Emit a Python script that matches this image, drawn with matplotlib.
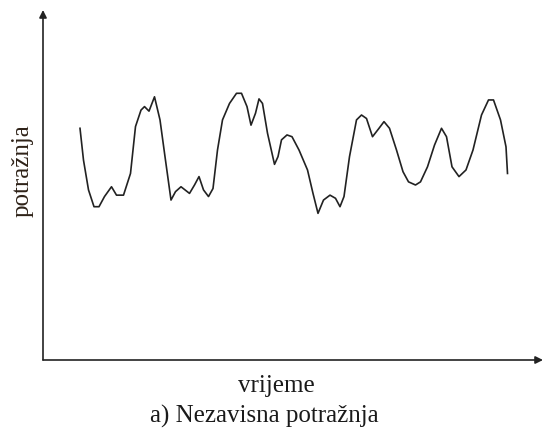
import matplotlib
matplotlib.use("Agg")
import matplotlib.pyplot as plt

# time (arbitrary units) and demand (arbitrary units)
vrijeme = [7.4, 8.1, 9.1, 10.2, 11.2, 12.3, 13.7, 14.7, 16.1, 17.5, 18.5, 19.6, 20.3, 21.2,
           22.3, 23.4, 24.4, 25.6, 26.5, 27.6, 29.3, 30.3, 31.2, 32.1, 33.1, 34.0, 34.9,
           35.9, 37.3, 38.7, 39.7, 40.8, 41.6, 42.5, 43.2, 43.9, 44.9, 46.3, 47.0, 47.7,
           48.8, 49.8, 51.2, 52.9, 54.0, 55.0, 56.1, 57.4, 58.5, 59.4, 60.2, 61.3, 62.7,
           63.7, 64.7, 65.9, 67.2, 68.2, 69.3, 70.7, 72.0, 73.1, 74.5, 75.5, 76.9, 78.3,
           79.7, 80.7, 81.8, 83.2, 84.6, 86.0, 87.7, 89.1, 90.1, 91.5, 92.6, 92.9]
potraznja = [66.2, 57.1, 48.6, 43.8, 43.8, 46.7, 49.5, 47.1, 47.1, 53.3, 66.7, 71.4, 72.4, 71.1,
             75.2, 68.6, 58.1, 45.7, 48.1, 49.5, 47.6, 50.0, 52.4, 48.6, 46.7, 49.0, 60.0,
             68.6, 73.3, 76.2, 76.2, 72.4, 67.1, 70.5, 74.6, 73.3, 64.8, 55.9, 58.1, 62.9,
             64.3, 63.8, 60.0, 54.3, 47.6, 41.9, 45.7, 47.1, 46.2, 43.8, 46.7, 58.1, 68.6,
             70.0, 69.0, 63.8, 66.2, 68.1, 66.2, 60.0, 53.8, 50.9, 50.0, 50.9, 55.2, 61.4,
             66.2, 63.8, 55.2, 52.4, 54.3, 60.0, 70.0, 74.3, 74.3, 68.6, 60.9, 53.3]

fig = plt.figure(figsize=(5.45, 4.32), dpi=100)
ax = fig.add_axes([43 / 545, 72 / 432, 500 / 545, 350 / 432])
ax.set_xlim(0, 100)
ax.set_ylim(0, 100)
for s in ax.spines.values():
    s.set_visible(False)
ax.set_xticks([])
ax.set_yticks([])
ax.patch.set_alpha(0)

# axes with arrow heads
arrow = dict(arrowstyle='-|>', color='#222222', lw=1.2, mutation_scale=11, shrinkA=0, shrinkB=0)
ax.annotate('', xy=(0, 1), xytext=(0, 0), xycoords='axes fraction', arrowprops=arrow)
ax.annotate('', xy=(1, 0), xytext=(0, 0), xycoords='axes fraction', arrowprops=arrow)

ax.plot(vrijeme, potraznja, color='#222222', lw=1.2)

font = 'Liberation Serif'
fig.text(23 / 545, 1 - 171 / 432, 'potražnja', rotation=90, ha='center', va='center',
         family=font, fontsize=18, color='#2e2218')
fig.text(276 / 545, 1 - 386 / 432, 'vrijeme', ha='center', va='center',
         family=font, fontsize=18, color='#1a1a1a')
fig.text(264 / 545, 1 - 416 / 432, 'a) Nezavisna potražnja', ha='center', va='center',
         family=font, fontsize=18, color='#1a1a1a')

fig.savefig('out.png', dpi=100)
